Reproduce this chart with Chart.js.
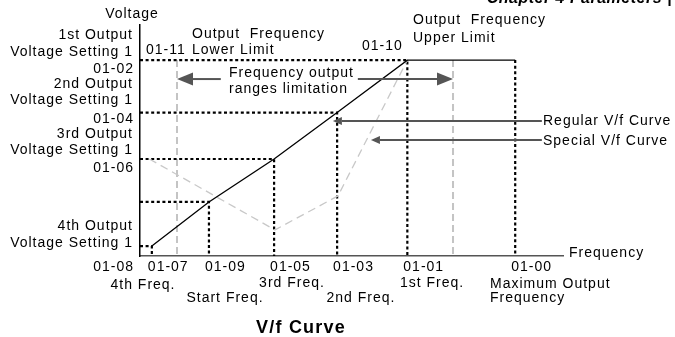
<!DOCTYPE html>
<html lang="en">
<head>
  <meta charset="UTF-8">
  <title>V/f Curve</title>
  <script src="https://cdn.jsdelivr.net/npm/chart.js"></script>
  <style>
    * { margin: 0; padding: 0; box-sizing: border-box; }
    body { background: #fff; width: 675px; height: 337px; overflow: hidden; }
  </style>
</head>
<body>
<canvas id="vfChart" width="675" height="337"></canvas>

<script>
  // frequency points along the axis (0..100 = full axis length)
  const freqCodes  = ['01-07', '01-09', '01-05', '01-03', '01-01', '01-00'];
  const freqValues = [2.8, 16.3, 31.7, 46.6, 63.2, 88.7];

  // output voltage at each of those frequencies (0..100 = full axis height)
  const regularVolts = [4.3, 23.4, 42.0, 62.1, 84.8, 84.8];

  // special (user defined) V/f curve
  const specialFreqs = [2.2, 31.9, 46.8, 63.2];
  const specialVolts = [42.0, 11.3, 26.0, 84.8];

  // output frequency limits 01-11 / 01-10
  const lowerLimit = 8.75;
  const upperLimit = 74.0;

  const pts = (xs, ys) => xs.map((x, i) => ({ x: x, y: ys[i] }));

  const dotted = { borderColor: '#000', borderWidth: 2.2, borderDash: [3, 2.6] };
  const grayDash = { borderColor: '#c4c4c4', borderWidth: 2, borderDash: [7, 4] };

  const datasets = [
    { label: 'Regular V/f Curve', data: pts(freqValues, regularVolts),
      borderColor: '#000', borderWidth: 1.3 },
    { label: 'Special V/f Curve', data: pts(specialFreqs, specialVolts),
      borderColor: '#c8c8c8', borderWidth: 1.3, borderDash: [8, 5] }
  ];

  // dotted guides from each corner to both axes
  for (let i = 0; i < 5; i++) {
    datasets.push(Object.assign({
      data: [{ x: 0, y: regularVolts[i] }, { x: freqValues[i], y: regularVolts[i] }, { x: freqValues[i], y: 0 }]
    }, dotted));
  }
  datasets.push(Object.assign({
    data: [{ x: freqValues[5], y: regularVolts[5] }, { x: freqValues[5], y: 0 }]
  }, dotted));

  // frequency limit markers
  [lowerLimit, upperLimit].forEach(f => {
    datasets.push(Object.assign({
      data: [{ x: f, y: regularVolts[4] }, { x: f, y: 0 }]
    }, grayDash));
  });

  // arrows: [fromX, toX, y, head length, head half-height] in axis units / px
  const arrows = [
    [19.1, lowerLimit, 76.6, 16, 6.5],
    [51.5, upperLimit, 76.6, 16, 6.5],
    [95.0, 45.6, 58.4, 9, 4],
    [95.0, 54.6, 50.2, 9, 4]
  ];

  // text: [string, x, baseline, align]
  const texts = [
    ['Voltage', 132, 18, 'center'],
    ['1st Output', 133, 38.5, 'right'],
    ['Voltage Setting 1', 133, 56, 'right'],
    ['01-02', 134, 72.5, 'right'],
    ['2nd Output', 133, 87.5, 'right'],
    ['Voltage Setting 1', 133, 104, 'right'],
    ['01-04', 134, 122.5, 'right'],
    ['3rd Output', 133, 138, 'right'],
    ['Voltage Setting 1', 133, 154, 'right'],
    ['01-06', 134, 171.5, 'right'],
    ['4th Output', 133, 230, 'right'],
    ['Voltage Setting 1', 133, 247, 'right'],
    ['01-08', 134, 271, 'right'],
    ['Output  Frequency', 192, 37.5, 'left'],
    ['01-11', 146, 54, 'left'],
    ['Lower Limit', 192, 54, 'left'],
    ['Output  Frequency', 413, 23.5, 'left'],
    ['Upper Limit', 413, 41.5, 'left'],
    ['01-10', 362, 49.5, 'left'],
    ['Frequency output', 229, 76.5, 'left'],
    ['ranges limitation', 229, 93, 'left'],
    ['Regular V/f Curve', 543, 125, 'left'],
    ['Special V/f Curve', 543, 145, 'left'],
    ['Frequency', 569, 257, 'left'],
    ['4th Freq.', 143, 289, 'center'],
    ['Start Freq.', 225, 301.5, 'center'],
    ['3rd Freq.', 292, 286.5, 'center'],
    ['2nd Freq.', 361, 301.5, 'center'],
    ['1st Freq.', 432, 286.5, 'center'],
    ['Maximum Output', 490, 288, 'left'],
    ['Frequency', 490, 302, 'left']
  ];

  const decorations = {
    id: 'decorations',
    afterDraw(chart) {
      const { ctx, scales: { x, y } } = chart;
      ctx.save();

      ctx.strokeStyle = '#555';
      ctx.fillStyle = '#555';
      ctx.lineWidth = 2;
      arrows.forEach(([fx, tx, vy, len, half]) => {
        const x0 = x.getPixelForValue(fx);
        const x1 = x.getPixelForValue(tx);
        const py = y.getPixelForValue(vy);
        const dir = x1 > x0 ? 1 : -1;
        ctx.beginPath();
        ctx.moveTo(x0, py);
        ctx.lineTo(x1 - dir * len, py);
        ctx.stroke();
        ctx.beginPath();
        ctx.moveTo(x1, py);
        ctx.lineTo(x1 - dir * len, py - half);
        ctx.lineTo(x1 - dir * len, py + half);
        ctx.closePath();
        ctx.fill();
      });

      ctx.fillStyle = '#000';
      ctx.font = '14px "Liberation Sans", Arial, sans-serif';
      ctx.letterSpacing = '1px';
      ctx.textBaseline = 'alphabetic';
      texts.forEach(([s, tx, ty, align]) => {
        ctx.textAlign = align;
        ctx.fillText(s, tx, ty);
      });

      // frequency codes sit just right of their guide lines
      ctx.textAlign = 'left';
      freqCodes.forEach((c, i) => {
        ctx.fillText(c, x.getPixelForValue(freqValues[i]) - 4, 271);
      });

      ctx.font = 'bold 18px "Liberation Sans", Arial, sans-serif';
      ctx.letterSpacing = '1.2px';
      ctx.textAlign = 'center';
      ctx.fillText('V/f Curve', 301, 333);

      // page header, cut off by the top edge
      ctx.font = 'bold italic 16px "Liberation Sans", Arial, sans-serif';
      ctx.letterSpacing = '0.5px';
      ctx.textAlign = 'right';
      ctx.fillText('Chapter 4 Parameters |', 672, 3);
      ctx.restore();
    }
  };

  new Chart(document.getElementById('vfChart'), {
    type: 'line',
    data: { datasets: datasets },
    options: {
      responsive: false,
      animation: false,
      layout: { padding: { left: 140, right: 112, top: 25, bottom: 81 } },
      elements: { point: { radius: 0 }, line: { tension: 0 } },
      plugins: { legend: { display: false }, tooltip: { enabled: false } },
      scales: {
        x: {
          type: 'linear', min: 0, max: 100,
          grid: { display: false, drawTicks: false },
          ticks: { display: false },
          border: { display: true, color: '#555', width: 1.6 }
        },
        y: {
          type: 'linear', min: 0, max: 100,
          grid: { display: false, drawTicks: false },
          ticks: { display: false },
          border: { display: true, color: '#000', width: 1.5 }
        }
      }
    },
    plugins: [decorations]
  });
</script>
</body>
</html>
